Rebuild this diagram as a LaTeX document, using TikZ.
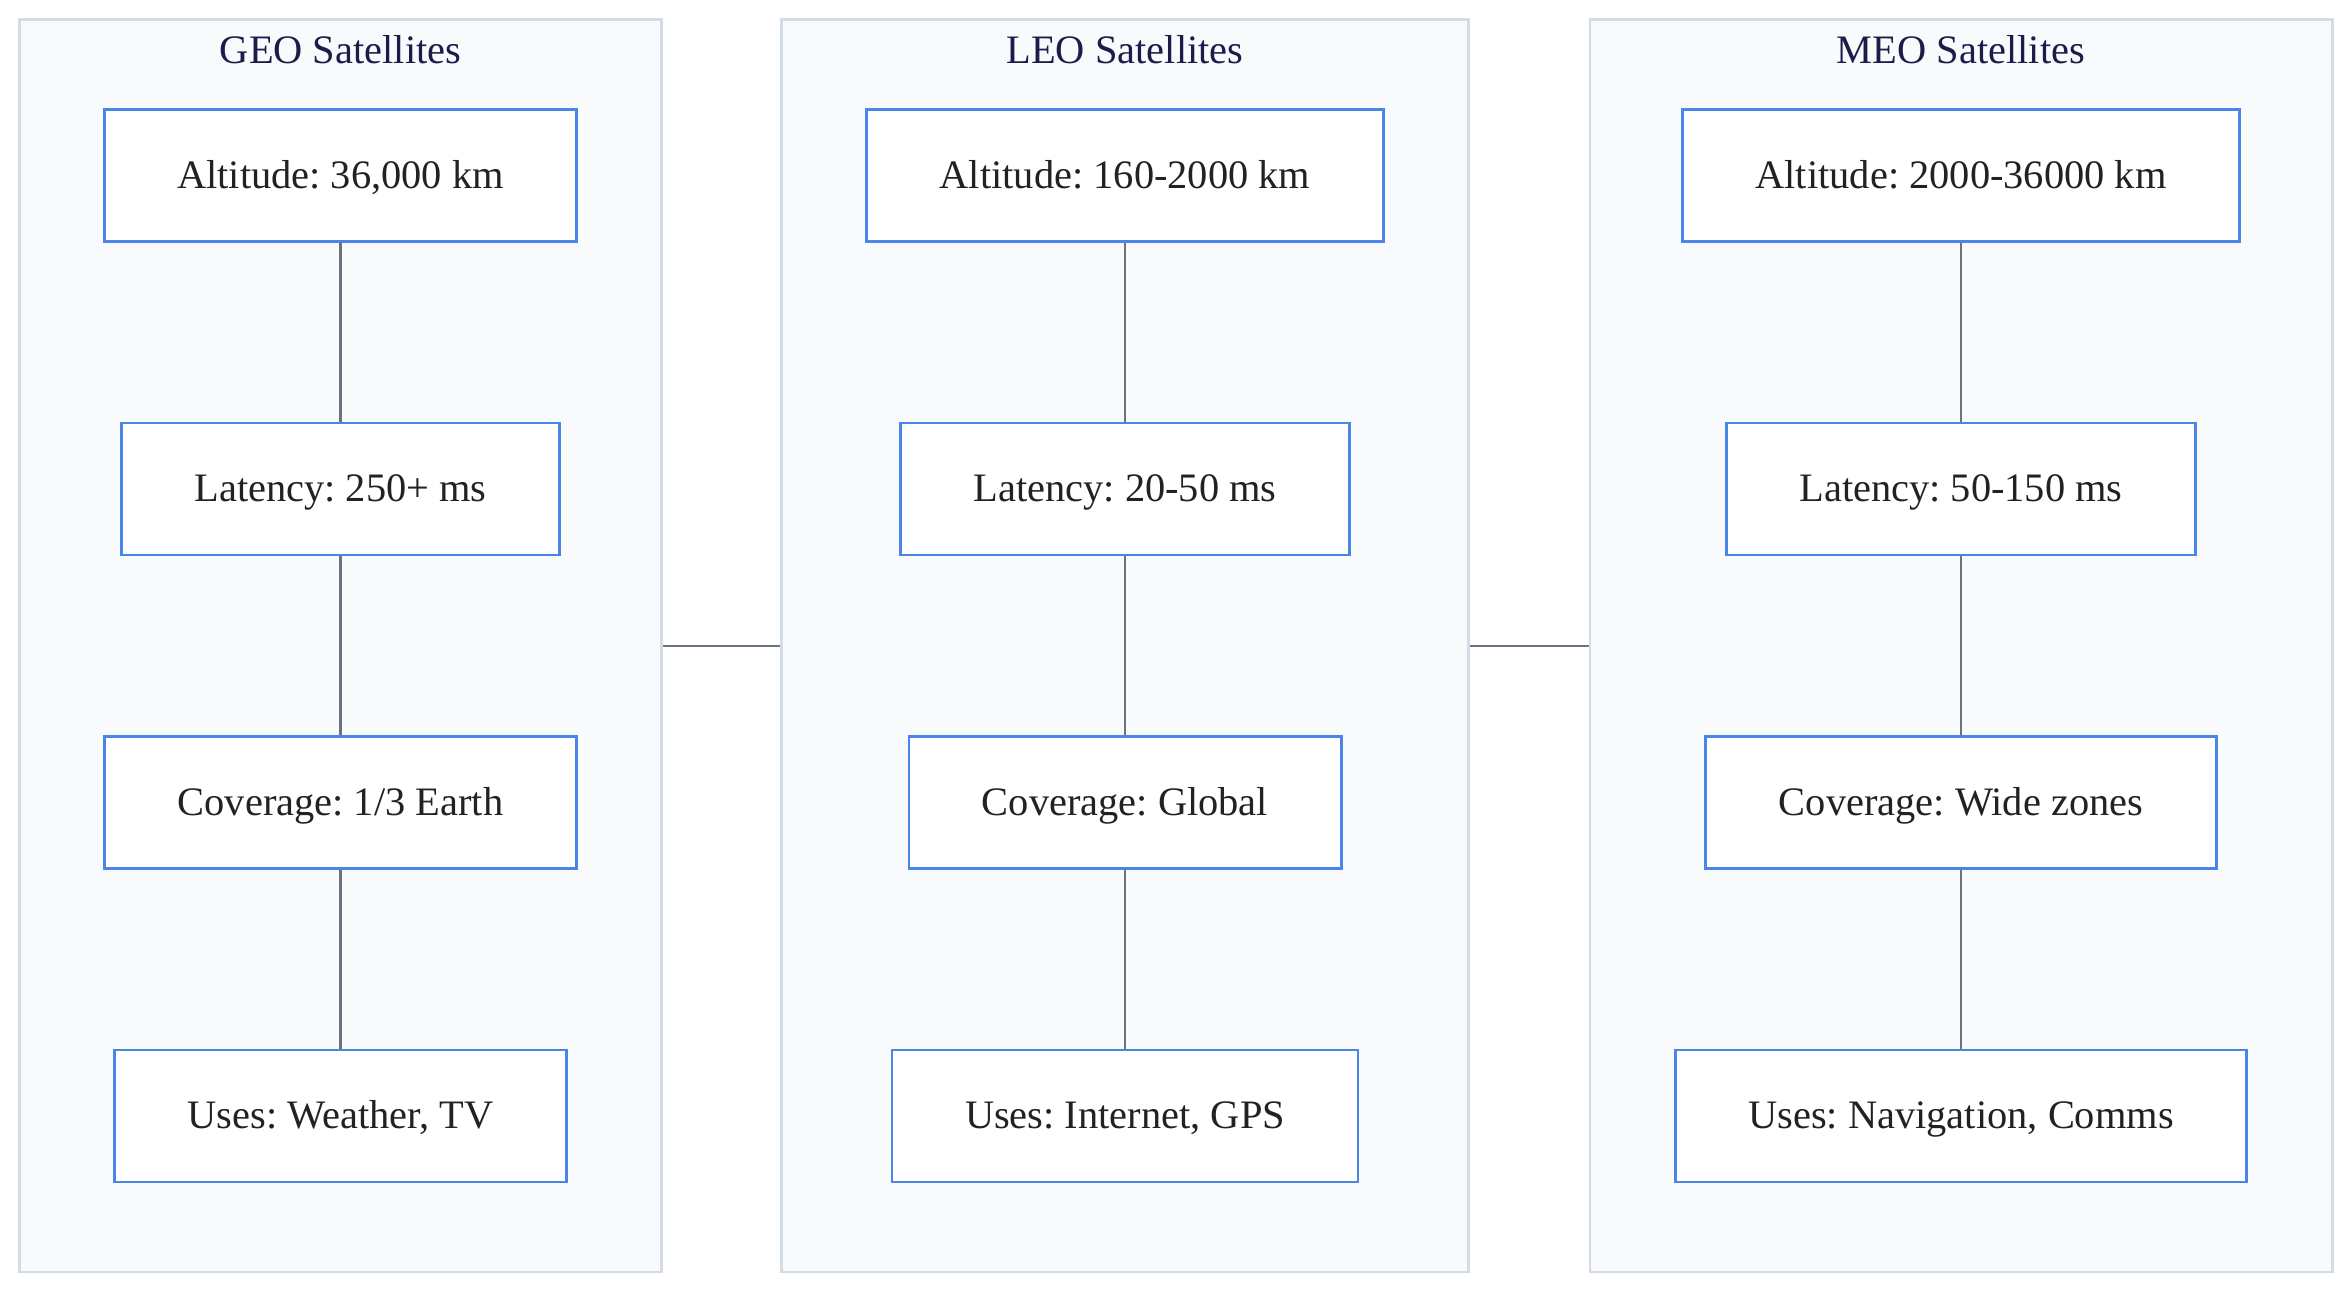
\documentclass[tikz,border=0pt]{standalone}
\usepackage{fontspec}
\setmainfont{Liberation Serif}
\usetikzlibrary{positioning}
\frenchspacing

\definecolor{clusterfill}{HTML}{F8FAFC}
\definecolor{clusterline}{HTML}{D3DBE6}
\definecolor{boxline}{HTML}{4A86E8}
\definecolor{linkgray}{HTML}{6B7280}
\definecolor{titlenavy}{HTML}{1C1C4A}
\definecolor{boxtext}{HTML}{222222}

\begin{document}
\begin{tikzpicture}[font=\fontsize{11.5}{14}\selectfont]
    % Styles
    \tikzstyle{cluster} = [rectangle, draw=clusterline, fill=clusterfill, line width=0.7pt,
        minimum height=12.525cm, inner sep=0pt]
    \tikzstyle{clustertitle} = [text=titlenavy, inner sep=0pt]
    \tikzstyle{fact} = [rectangle, draw=boxline, fill=white, line width=0.8pt, text=boxtext,
        inner xsep=0.73cm, minimum height=1.32cm, text height=1.9ex, text depth=0.35ex]
    \tikzstyle{link} = [draw=linkgray, line width=0.6pt]

    \useasboundingbox (0,0) rectangle (23.52,-12.92);

    % === Clusters ===
    \node [cluster, minimum width=6.42cm] (geo) at (3.405,-6.4575) {};
    \node [cluster, minimum width=6.87cm] (leo) at (11.25,-6.4575) {};
    \node [cluster, minimum width=7.425cm] (meo) at (19.6125,-6.4575) {};

    \node [clustertitle] (geotitle) at (3.405,-0.5) {GEO Satellites};
    \node [clustertitle] (leotitle) at (11.25,-0.5) {LEO Satellites};
    \node [clustertitle] (meotitle) at (19.61,-0.5) {MEO Satellites};

    % === GEO column ===
    \node [fact] (geoalt) at (3.405,-1.755) {Altitude: 36,000 km};
    \node [fact] (geolat) at (3.405,-4.89) {Latency: 250+ ms};
    \node [fact] (geocov) at (3.405,-8.025) {Coverage: 1/3 Earth};
    \node [fact] (geouse) at (3.405,-11.16) {Uses: Weather, TV};

    % === LEO column ===
    \node [fact] (leoalt) at (11.25,-1.755) {Altitude: 160-2000 km};
    \node [fact] (leolat) at (11.25,-4.89) {Latency: 20-50 ms};
    \node [fact] (leocov) at (11.25,-8.025) {Coverage: Global};
    \node [fact] (leouse) at (11.25,-11.16) {Uses: Internet, GPS};

    % === MEO column ===
    \node [fact] (meoalt) at (19.61,-1.755) {Altitude: 2000-36000 km};
    \node [fact] (meolat) at (19.61,-4.89) {Latency: 50-150 ms};
    \node [fact] (meocov) at (19.61,-8.025) {Coverage: Wide zones};
    \node [fact] (meouse) at (19.61,-11.16) {Uses: Navigation, Comms};

    % === Links ===
    \draw [link] (geoalt) -- (geolat);
    \draw [link] (geolat) -- (geocov);
    \draw [link] (geocov) -- (geouse);
    \draw [link] (leoalt) -- (leolat);
    \draw [link] (leolat) -- (leocov);
    \draw [link] (leocov) -- (leouse);
    \draw [link] (meoalt) -- (meolat);
    \draw [link] (meolat) -- (meocov);
    \draw [link] (meocov) -- (meouse);

    \draw [link] (geo) -- (leo);
    \draw [link] (leo) -- (meo);

\end{tikzpicture}
\end{document}
